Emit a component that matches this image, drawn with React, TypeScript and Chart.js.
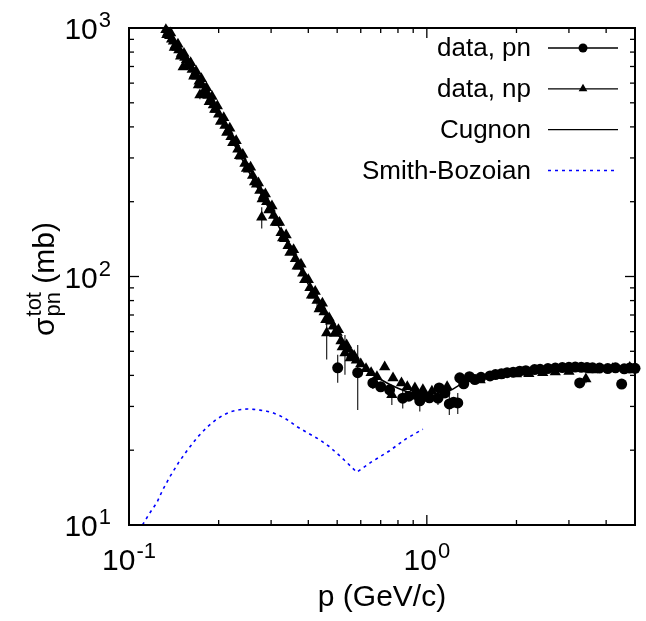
import React, { useEffect, useRef } from "react";
import { Chart, registerables } from "chart.js";
Chart.register(...registerables);

// ---- axis ticks ----
const xMajorTicks = [0.1, 1];
const xMajorExps = ["-1", "0"];
const yMajorTicks = [10, 100, 1000];
const yMajorExps = ["1", "2", "3"];
const xMinorTicks = [0.2, 0.3, 0.4, 0.5, 0.6, 0.7, 0.8, 0.9, 2, 3, 4];
const yMinorTicks = [20, 30, 40, 50, 60, 70, 80, 90, 200, 300, 400, 500, 600, 700, 800, 900];

// ---- data, pn (circles) ----
const pnX = [0.502, 0.586, 0.659, 0.7, 0.75, 0.83, 0.87, 0.92, 0.947, 0.98, 1.02, 1.09, 1.1, 1.15, 1.19, 1.23, 1.27, 1.29, 1.33, 1.39, 1.45, 1.52, 1.63, 1.7, 1.78, 1.86, 1.95, 2.05, 2.15, 2.3, 2.4, 2.55, 2.7, 2.85, 3.0, 3.15, 3.26, 3.3, 3.45, 3.6, 3.8, 4.05, 4.3, 4.51, 4.6, 4.8, 5.0];
const pnY = [42.9, 41.0, 37.3, 36.0, 35.0, 32.4, 33.0, 33.5, 31.6, 33.0, 32.5, 32.4, 35.6, 34.0, 30.7, 31.2, 31.0, 39.1, 37.0, 39.5, 38.5, 39.3, 39.8, 40.3, 40.6, 41.0, 41.2, 41.6, 41.8, 42.2, 42.3, 42.6, 42.8, 43.0, 43.1, 43.2, 37.3, 43.1, 43.0, 42.9, 42.8, 42.6, 42.9, 36.9, 42.5, 42.8, 42.7];
const pnErr = [5.5, 12, 2, 0, 0, 3, 0, 0, 3, 0, 0, 2, 0, 0, 3, 0, 3, 0, 0, 0, 0, 1.5, 0, 0, 0, 0, 0, 0, 0, 0, 0, 0, 0, 0, 0, 0, 1.5, 0, 0, 0, 0, 0, 0, 1.5, 0, 0, 0];

// ---- data, np (triangles) ----
const npX = [0.133, 0.134, 0.135, 0.137, 0.138, 0.139, 0.141, 0.142, 0.143, 0.145, 0.146, 0.147, 0.149, 0.15, 0.152, 0.153, 0.154, 0.156, 0.157, 0.158, 0.16, 0.161, 0.163, 0.165, 0.166, 0.168, 0.169, 0.171, 0.172, 0.173, 0.175, 0.176, 0.179, 0.18, 0.182, 0.184, 0.186, 0.188, 0.19, 0.192, 0.194, 0.196, 0.198, 0.2, 0.203, 0.205, 0.208, 0.21, 0.213, 0.215, 0.218, 0.22, 0.223, 0.226, 0.229, 0.232, 0.235, 0.238, 0.241, 0.245, 0.248, 0.252, 0.256, 0.26, 0.264, 0.268, 0.272, 0.275, 0.279, 0.28, 0.283, 0.287, 0.29, 0.295, 0.298, 0.302, 0.306, 0.31, 0.315, 0.32, 0.324, 0.328, 0.333, 0.337, 0.342, 0.347, 0.352, 0.357, 0.362, 0.367, 0.372, 0.378, 0.383, 0.389, 0.394, 0.4, 0.405, 0.41, 0.416, 0.422, 0.428, 0.435, 0.44, 0.446, 0.452, 0.458, 0.461, 0.47, 0.475, 0.485, 0.49, 0.5, 0.505, 0.515, 0.52, 0.531, 0.538, 0.545, 0.553, 0.56, 0.57, 0.58, 0.6, 0.625, 0.65, 0.68, 0.722, 0.763, 0.77, 0.822, 0.86, 0.912, 0.97, 1.04, 1.17, 1.51, 1.75, 2.0, 2.2, 2.45, 2.7, 3.0, 3.42, 3.6, 4.2, 4.8];
const npY = [985, 940, 960, 930, 955, 900, 885, 835, 850, 835, 860, 815, 770, 790, 697, 790, 760, 745, 700, 720, 705, 725, 680, 640, 650, 670, 640, 590, 610, 537, 625, 590, 545, 565, 575, 535, 505, 515, 530, 490, 470, 470, 485, 450, 420, 425, 435, 405, 380, 385, 395, 365, 345, 345, 352, 325, 306, 305, 310, 285, 272, 270, 275, 255, 240, 235, 238, 222, 173, 205, 212, 215, 200, 185, 188, 192, 176, 165, 165, 165, 150, 143, 142, 147, 133, 125, 126, 128, 118, 110, 110, 112, 103, 97, 97, 97, 90, 84, 84, 87, 80, 74, 76, 78, 72, 67, 59.3, 68, 66, 63, 59, 59.5, 61, 55, 52, 49.2, 53, 51, 47, 48.5, 48, 46, 44.5, 42.5, 41, 39.5, 43.2, 33.4, 39, 37.3, 36, 35.6, 35, 34.5, 36, 38.3, 40, 40.5, 40.6, 41, 41.3, 41.5, 38.7, 42, 42.5, 43];
const npErr = [0, 0, 0, 0, 0, 0, 0, 0, 0, 0, 0, 0, 0, 0, 20, 0, 0, 0, 0, 0, 0, 0, 0, 0, 0, 0, 0, 0, 0, 20, 0, 0, 0, 0, 0, 0, 0, 0, 0, 0, 0, 0, 0, 0, 0, 0, 0, 0, 0, 0, 0, 0, 0, 0, 0, 0, 0, 0, 0, 0, 0, 0, 0, 0, 0, 0, 0, 0, 17, 0, 0, 0, 0, 0, 0, 0, 0, 0, 0, 0, 0, 0, 0, 0, 0, 0, 0, 0, 0, 0, 0, 0, 0, 0, 0, 0, 0, 0, 0, 0, 6, 0, 0, 0, 0, 0, 13, 0, 0, 0, 0, 0, 0, 0, 0, 9, 0, 0, 0, 0, 0, 0, 0, 0, 0, 0, 0, 3, 0, 0, 0, 0, 0, 0, 0, 0, 0, 0, 0, 0, 0, 0, 1.5, 0, 0, 0];

// ---- Cugnon parametrisation ----
const cugnonX = [0.132, 0.15, 0.17, 0.2, 0.24, 0.28, 0.32, 0.35, 0.4, 0.45, 0.5, 0.55, 0.6, 0.65, 0.7, 0.8, 0.9, 1.0, 1.1, 1.2, 1.3, 1.4, 1.6, 1.8, 2.0, 2.5, 3.0, 3.5, 4.0, 5.0];
const cugnonY = [1000, 790, 625, 445, 295, 210, 157, 128, 93, 73, 59, 50.5, 45, 41, 38.5, 35.5, 33.8, 33, 33.3, 34.8, 36.8, 38, 39.3, 40.1, 40.8, 41.8, 42.5, 42.8, 42.8, 42.6];

// ---- Smith-Bozoian ----
const sbX = [0.111, 0.117, 0.124, 0.13, 0.137, 0.147, 0.157, 0.17, 0.183, 0.195, 0.207, 0.22, 0.235, 0.249, 0.262, 0.275, 0.29, 0.304, 0.32, 0.335, 0.35, 0.366, 0.4, 0.438, 0.47, 0.5, 0.54, 0.582, 0.65, 0.75, 0.85, 0.97];
const sbY = [10, 11.1, 12.3, 13.9, 15.6, 17.9, 20.0, 22.6, 24.8, 26.4, 27.7, 28.6, 29.1, 29.3, 29.2, 29.0, 28.7, 28.3, 27.6, 26.8, 25.9, 24.9, 23.4, 22.0, 20.7, 19.4, 17.8, 16.3, 17.9, 19.9, 22.2, 24.3];

const legendLabels = ["data, pn", "data, np", "Cugnon", "Smith-Bozoian"];
const xTitle = "p (GeV/c)";

const FONT = "'Liberation Sans', Arial, Helvetica, sans-serif";

function drawPow(ctx: CanvasRenderingContext2D, exp: string, x: number, y: number, align: "center" | "right") {
  ctx.save();
  ctx.fillStyle = "#000";
  ctx.textBaseline = "alphabetic";
  ctx.textAlign = "left";
  const big = "30px " + FONT;
  const small = "22px " + FONT;
  ctx.font = big;
  const wb = ctx.measureText("10").width;
  ctx.font = small;
  const we = ctx.measureText(exp).width;
  const total = wb + we + 1;
  const x0 = align === "center" ? x - total / 2 : x - total;
  ctx.font = big;
  ctx.fillText("10", x0, y);
  ctx.font = small;
  ctx.fillText(exp, x0 + wb + 1, y - 12);
  ctx.restore();
}

const customPlugin = {
  id: "gnuplotLook",
  beforeDatasetsDraw(chart: any) {
    const ctx = chart.ctx as CanvasRenderingContext2D;
    const xs = chart.scales.x;
    const ys = chart.scales.y;
    ctx.save();
    ctx.strokeStyle = "#222";
    ctx.lineWidth = 1.2;
    const sets: [number[], number[], number[]][] = [
      [pnX, pnY, pnErr],
      [npX, npY, npErr],
    ];
    for (const [X, Y, E] of sets) {
      for (let i = 0; i < X.length; i++) {
        if (!E[i]) continue;
        const px = xs.getPixelForValue(X[i]);
        const y1 = ys.getPixelForValue(Math.max(Y[i] - E[i], 1));
        const y2 = ys.getPixelForValue(Y[i] + E[i]);
        ctx.beginPath();
        ctx.moveTo(px, y1);
        ctx.lineTo(px, y2);
        ctx.stroke();
      }
    }
    ctx.restore();
  },
  afterDraw(chart: any) {
    const ctx = chart.ctx as CanvasRenderingContext2D;
    const xs = chart.scales.x;
    const ys = chart.scales.y;
    const a = chart.chartArea;
    ctx.save();
    ctx.strokeStyle = "#000";
    ctx.lineWidth = 2;
    ctx.strokeRect(a.left, a.top, a.right - a.left, a.bottom - a.top);
    ctx.lineWidth = 1.3;
    const tick = (x1: number, y1: number, x2: number, y2: number) => {
      ctx.beginPath();
      ctx.moveTo(x1, y1);
      ctx.lineTo(x2, y2);
      ctx.stroke();
    };
    xMajorTicks.forEach((v) => {
      const p = xs.getPixelForValue(v);
      tick(p, a.bottom, p, a.bottom - 10);
      tick(p, a.top, p, a.top + 10);
    });
    xMinorTicks.forEach((v) => {
      const p = xs.getPixelForValue(v);
      tick(p, a.bottom, p, a.bottom - 5);
      tick(p, a.top, p, a.top + 5);
    });
    yMajorTicks.forEach((v) => {
      const p = ys.getPixelForValue(v);
      tick(a.left, p, a.left + 10, p);
      tick(a.right, p, a.right - 10, p);
    });
    yMinorTicks.forEach((v) => {
      const p = ys.getPixelForValue(v);
      tick(a.left, p, a.left + 5, p);
      tick(a.right, p, a.right - 5, p);
    });
    xMajorTicks.forEach((v, i) => {
      drawPow(ctx, xMajorExps[i], xs.getPixelForValue(v), 570, "center");
    });
    yMajorTicks.forEach((v, i) => {
      drawPow(ctx, yMajorExps[i], 111, ys.getPixelForValue(v) + 11, "right");
    });
    ctx.fillStyle = "#000";
    ctx.font = "30px " + FONT;
    ctx.textAlign = "center";
    ctx.textBaseline = "alphabetic";
    ctx.fillText(xTitle, (a.left + a.right) / 2, 606);
    ctx.save();
    ctx.translate(54, 336);
    ctx.rotate(-Math.PI / 2);
    ctx.textAlign = "left";
    ctx.font = "30px " + FONT;
    ctx.fillText("σ", 0, 0);
    let w = ctx.measureText("σ").width + 1;
    ctx.font = "22px " + FONT;
    ctx.fillText("tot", w, -13);
    ctx.fillText("pn", w, 6);
    w += Math.max(ctx.measureText("tot").width, ctx.measureText("pn").width);
    ctx.font = "30px " + FONT;
    ctx.fillText(" (mb)", w, 0);
    ctx.restore();
    ctx.font = "26px " + FONT;
    ctx.textAlign = "right";
    ctx.textBaseline = "middle";
    legendLabels.forEach((lab, i) => {
      const y = 48 + i * 40.8;
      ctx.fillStyle = "#000";
      ctx.fillText(lab, 531, y + 1);
      ctx.save();
      ctx.lineWidth = i === 3 ? 1.5 : 1.3;
      ctx.strokeStyle = i === 3 ? "#0000ff" : "#000";
      if (i === 3) ctx.setLineDash([3, 4]);
      ctx.beginPath();
      ctx.moveTo(548, y);
      ctx.lineTo(618, y);
      ctx.stroke();
      ctx.restore();
      ctx.fillStyle = "#000";
      if (i === 0) {
        ctx.beginPath();
        ctx.arc(583, y, 4.5, 0, Math.PI * 2);
        ctx.fill();
      } else if (i === 1) {
        const r = 5;
        ctx.beginPath();
        ctx.moveTo(583, y - r);
        ctx.lineTo(583 + r * 0.866, y + r * 0.5);
        ctx.lineTo(583 - r * 0.866, y + r * 0.5);
        ctx.closePath();
        ctx.fill();
      }
    });
    ctx.restore();
  },
};

export default function App() {
  const ref = useRef<HTMLCanvasElement | null>(null);
  useEffect(() => {
    if (!ref.current) return;
    const toPts = (X: number[], Y: number[]) => X.map((x, i) => ({ x, y: Y[i] }));
    const chart = new Chart(ref.current, {
      type: "scatter",
      data: {
        datasets: [
          {
            label: legendLabels[0],
            data: toPts(pnX, pnY),
            pointStyle: "circle",
            pointRadius: 5.5,
            backgroundColor: "#000",
            borderColor: "#000",
            borderWidth: 0,
            showLine: false,
            clip: false,
          },
          {
            label: legendLabels[1],
            data: toPts(npX, npY),
            pointStyle: "triangle",
            pointRadius: 6.5,
            backgroundColor: "#000",
            borderColor: "#000",
            borderWidth: 0,
            showLine: false,
            clip: false,
          },
          {
            label: legendLabels[2],
            data: toPts(cugnonX, cugnonY),
            showLine: true,
            pointRadius: 0,
            borderColor: "#000",
            borderWidth: 1.5,
            cubicInterpolationMode: "monotone",
          },
          {
            label: legendLabels[3],
            data: toPts(sbX, sbY),
            showLine: true,
            pointRadius: 0,
            borderColor: "#0000ff",
            borderWidth: 1.6,
            borderDash: [3, 4],
          },
        ],
      } as any,
      options: {
        animation: false,
        responsive: false,
        maintainAspectRatio: false,
        layout: { padding: { left: 129, top: 28, right: 11, bottom: 96 } },
        plugins: { legend: { display: false }, tooltip: { enabled: false } },
        scales: {
          x: { type: "logarithmic", min: 0.1, max: 5, display: false },
          y: { type: "logarithmic", min: 10, max: 1000, display: false },
        },
      },
      plugins: [customPlugin],
    });
    return () => chart.destroy();
  }, []);
  return (
    <div style={{ position: "fixed", left: 0, top: 0, width: 646, height: 621, background: "#fff" }}>
      <canvas ref={ref} width={646} height={621} style={{ width: 646, height: 621, display: "block" }} />
    </div>
  );
}
